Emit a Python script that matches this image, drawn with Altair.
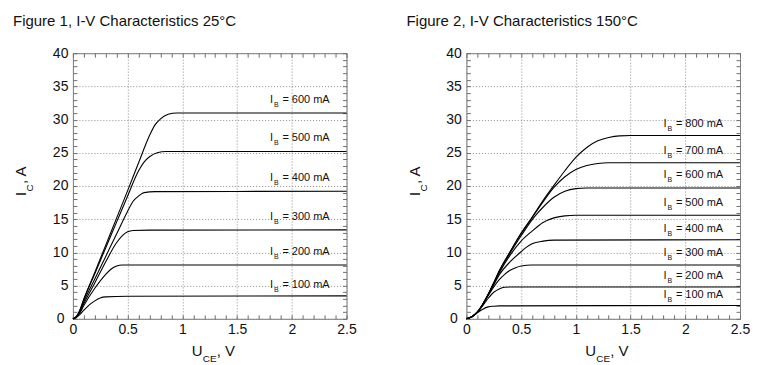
import altair as alt
import pandas as pd

FONT = "Liberation Sans"
W, H = 274, 266

# ---------------- data: 25 °C ----------------
ib_25 = ["100 mA", "200 mA", "300 mA", "400 mA", "500 mA", "600 mA"]
uce_25_100 = [0, 0.03, 0.06, 0.1, 0.15, 0.2, 0.25, 0.3, 0.5, 2.5]
ic_25_100 = [0, 0.2, 0.6, 1.3, 2.1, 2.7, 3.15, 3.3, 3.4, 3.45]
uce_25_200 = [0, 0.03, 0.06, 0.1, 0.2, 0.3, 0.35, 0.4, 0.45, 2.5]
ic_25_200 = [0, 0.25, 0.8, 2.0, 4.6, 6.7, 7.5, 7.95, 8.1, 8.1]
uce_25_300 = [0, 0.03, 0.06, 0.1, 0.2, 0.3, 0.4, 0.45, 0.5, 0.55, 0.7, 2.5]
ic_25_300 = [0, 0.3, 0.9, 2.3, 5.4, 8.6, 11.5, 12.5, 13.1, 13.3, 13.35, 13.4]
uce_25_400 = [0, 0.03, 0.06, 0.1, 0.2, 0.3, 0.4, 0.5, 0.55, 0.6, 0.65, 0.75, 2.5]
ic_25_400 = [0, 0.3, 1.0, 2.6, 6.0, 9.4, 12.8, 16.2, 17.7, 18.5, 19.0, 19.15, 19.2]
uce_25_500 = [0, 0.03, 0.06, 0.1, 0.2, 0.3, 0.4, 0.5, 0.6, 0.65, 0.7, 0.77, 0.85, 2.5]
ic_25_500 = [0, 0.3, 1.1, 2.9, 6.8, 10.7, 14.6, 18.5, 22.3, 23.6, 24.4, 25.0, 25.2, 25.2]
uce_25_600 = [0, 0.03, 0.06, 0.1, 0.2, 0.3, 0.4, 0.5, 0.6, 0.7, 0.75, 0.8, 0.87, 0.95, 2.5]
ic_25_600 = [0, 0.3, 1.2, 3.0, 7.0, 11.1, 15.2, 19.3, 23.5, 27.6, 29.2, 30.1, 30.8, 31.0, 31.0]
label_y_25 = [5.1, 10.1, 15.3, 21.2, 27.2, 32.9]

# ---------------- data: 150 °C ----------------
ib_150 = ["100 mA", "200 mA", "300 mA", "400 mA", "500 mA", "600 mA", "700 mA", "800 mA"]
uce_150_100 = [0, 0.05, 0.1, 0.15, 0.2, 0.25, 0.3, 2.5]
ic_150_100 = [0, 0.3, 0.9, 1.45, 1.8, 1.9, 1.95, 2.0]
uce_150_200 = [0, 0.05, 0.1, 0.15, 0.2, 0.25, 0.3, 0.35, 0.4, 2.5]
ic_150_200 = [0, 0.3, 1.0, 2.0, 3.1, 4.0, 4.5, 4.75, 4.8, 4.8]
uce_150_300 = [0, 0.05, 0.1, 0.15, 0.2, 0.25, 0.3, 0.35, 0.4, 0.45, 0.5, 0.6, 2.5]
ic_150_300 = [0, 0.3, 1.0, 2.1, 3.5, 4.8, 5.9, 6.7, 7.3, 7.7, 7.95, 8.1, 8.1]
uce_150_400 = [0, 0.05, 0.1, 0.15, 0.2, 0.25, 0.3, 0.4, 0.5, 0.55, 0.6, 0.7, 0.8, 2.5]
ic_150_400 = [0, 0.3, 1.0, 2.2, 3.6, 5.1, 6.6, 8.6, 10.1, 10.8, 11.3, 11.7, 11.85, 11.9]
uce_150_500 = [0, 0.05, 0.1, 0.15, 0.2, 0.25, 0.3, 0.4, 0.5, 0.6, 0.7, 0.8, 0.9, 1.0, 2.5]
ic_150_500 = [0, 0.3, 1.0, 2.2, 3.7, 5.3, 6.9, 9.6, 11.7, 13.2, 14.5, 15.2, 15.5, 15.6, 15.6]
uce_150_600 = [0, 0.05, 0.1, 0.15, 0.2, 0.25, 0.3, 0.4, 0.5, 0.6, 0.65, 0.7, 0.8, 0.9, 1.0, 1.1, 2.5]
ic_150_600 = [0, 0.3, 1.0, 2.2, 3.7, 5.4, 7.1, 9.9, 12.5, 14.9, 15.9, 16.8, 18.3, 19.2, 19.6, 19.7, 19.7]
uce_150_700 = [0, 0.05, 0.1, 0.15, 0.2, 0.25, 0.3, 0.4, 0.5, 0.6, 0.7, 0.8, 0.9, 1.0, 1.1, 1.2, 1.3, 2.5]
ic_150_700 = [0, 0.3, 1.0, 2.2, 3.7, 5.4, 7.2, 10.1, 12.8, 15.2, 17.6, 19.8, 21.4, 22.5, 23.1, 23.4, 23.5, 23.5]
uce_150_800 = [0, 0.05, 0.1, 0.15, 0.2, 0.25, 0.3, 0.4, 0.5, 0.6, 0.7, 0.8, 0.9, 1.0, 1.1, 1.2, 1.3, 1.4, 1.5, 2.5]
ic_150_800 = [0, 0.3, 1.0, 2.2, 3.7, 5.4, 7.2, 10.1, 12.9, 15.3, 17.8, 20.1, 22.3, 24.3, 25.8, 26.8, 27.3, 27.55, 27.6, 27.6]
label_y_150 = [3.6, 6.5, 9.9, 13.5, 17.4, 21.7, 25.3, 29.4]

label_x = 1.8
x_major = [0, 0.5, 1, 1.5, 2, 2.5]
y_major = [0, 5, 10, 15, 20, 25, 30, 35, 40]
x_minor = [round(i * 0.1, 1) for i in range(26)]
y_minor = list(range(41))

curves_25 = [
    (ib_25[0], uce_25_100, ic_25_100), (ib_25[1], uce_25_200, ic_25_200),
    (ib_25[2], uce_25_300, ic_25_300), (ib_25[3], uce_25_400, ic_25_400),
    (ib_25[4], uce_25_500, ic_25_500), (ib_25[5], uce_25_600, ic_25_600),
]
curves_150 = [
    (ib_150[0], uce_150_100, ic_150_100), (ib_150[1], uce_150_200, ic_150_200),
    (ib_150[2], uce_150_300, ic_150_300), (ib_150[3], uce_150_400, ic_150_400),
    (ib_150[4], uce_150_500, ic_150_500), (ib_150[5], uce_150_600, ic_150_600),
    (ib_150[6], uce_150_700, ic_150_700), (ib_150[7], uce_150_800, ic_150_800),
]


def curves_df(curves):
    rows = []
    for name, xs, ys in curves:
        for i, (x, y) in enumerate(zip(xs, ys)):
            rows.append({"ib": name, "uce": x, "ic": y, "ord": i})
    return pd.DataFrame(rows)


def labels_df(names, ys):
    return pd.DataFrame({"txt": ["= " + n for n in names],
                         "x": [label_x] * len(names), "y": ys})


XS = alt.Scale(domain=[0, 2.5], nice=False, zero=False)
YS = alt.Scale(domain=[0, 40], nice=False, zero=False)
GRID = dict(grid=True, gridDash=[1, 2], gridColor="#8c8c8c", gridWidth=1)
TICKC = "#6e6e6e"


def minor_axis(orient, values):
    return alt.Axis(orient=orient, values=values, labels=False, ticks=True,
                    tickSize=4, tickColor=TICKC, tickWidth=1, domain=False,
                    grid=False, offset=-4, title=None)


def annot(text, x, y, size=15, angle=0, align="left"):
    return alt.Chart(alt.Data(values=[{}])).mark_text(
        text=text, font=FONT, fontSize=size, angle=angle, align=align,
        baseline="alphabetic", color="#111"
    ).encode(x=alt.value(x), y=alt.value(y))


def panel(curves, names, label_ys, title):
    cdf = curves_df(curves)
    ldf = labels_df(names, label_ys)
    lines = alt.Chart(cdf).mark_line(
        color="black", strokeWidth=1.1, interpolate="monotone"
    ).encode(
        x=alt.X("uce:Q", scale=XS, axis=alt.Axis(
            orient="bottom", values=x_major, format="~g", ticks=False,
            domain=False, labelFont=FONT, labelFontSize=14, labelColor="#111",
            labelPadding=4, labelFlush=False, title=None, **GRID)),
        y=alt.Y("ic:Q", scale=YS, axis=alt.Axis(
            orient="left", values=y_major, format="~g", ticks=False,
            domain=False, labelFont=FONT, labelFontSize=14, labelColor="#111",
            labelPadding={"condition": {"test": "datum.value === 0", "value": 9}, "value": 5},
            labelFlush=False, title=None, **GRID)),
        detail="ib:N",
        order="ord:Q",
    )
    lab_i = alt.Chart(ldf).mark_text(
        text="I", align="left", baseline="middle", font=FONT, fontSize=11, color="#111"
    ).encode(
        x=alt.X("x:Q", scale=XS, axis=minor_axis("top", x_minor)),
        y=alt.Y("y:Q", scale=YS, axis=minor_axis("right", y_minor)),
    )
    lab_b = alt.Chart(ldf).mark_text(
        text="B", align="left", baseline="middle", font=FONT, fontSize=7,
        dx=4, dy=5, color="#111"
    ).encode(
        x=alt.X("x:Q", scale=XS, axis=minor_axis("bottom", x_minor)),
        y=alt.Y("y:Q", scale=YS, axis=minor_axis("left", y_minor)),
    )
    lab_t = alt.Chart(ldf).mark_text(
        align="left", baseline="middle", font=FONT, fontSize=11, dx=12.5, color="#111"
    ).encode(
        x=alt.X("x:Q", scale=XS, axis=None),
        y=alt.Y("y:Q", scale=YS, axis=None),
        text="txt:N",
    )
    layers = [
        lines, lab_i, lab_b, lab_t,
        annot(title, -60, -27),
        annot("U", 119, H + 37),
        annot("CE", 130, H + 43, size=10),
        annot(", V", 144, H + 37),
        annot("I", -46.5, 143, angle=270),
        annot("C", -39.5, 138.5, size=10, angle=270),
        annot(", A", -46.5, 131, angle=270),
    ]
    return alt.layer(*layers).resolve_axis(x="independent", y="independent").properties(
        width=W, height=H)


left = panel(curves_25, ib_25, label_y_25, "Figure 1, I-V Characteristics 25°C")
right = panel(curves_150, ib_150, label_y_150, "Figure 2, I-V Characteristics 150°C")

chart = alt.hconcat(left, right, spacing=48).properties(
    padding={"left": 4, "top": 5, "right": 0, "bottom": 0}
).configure_view(stroke="#7a7a7a", strokeWidth=1)

chart.save("out.html", embed_options={"renderer": "svg", "actions": False})
